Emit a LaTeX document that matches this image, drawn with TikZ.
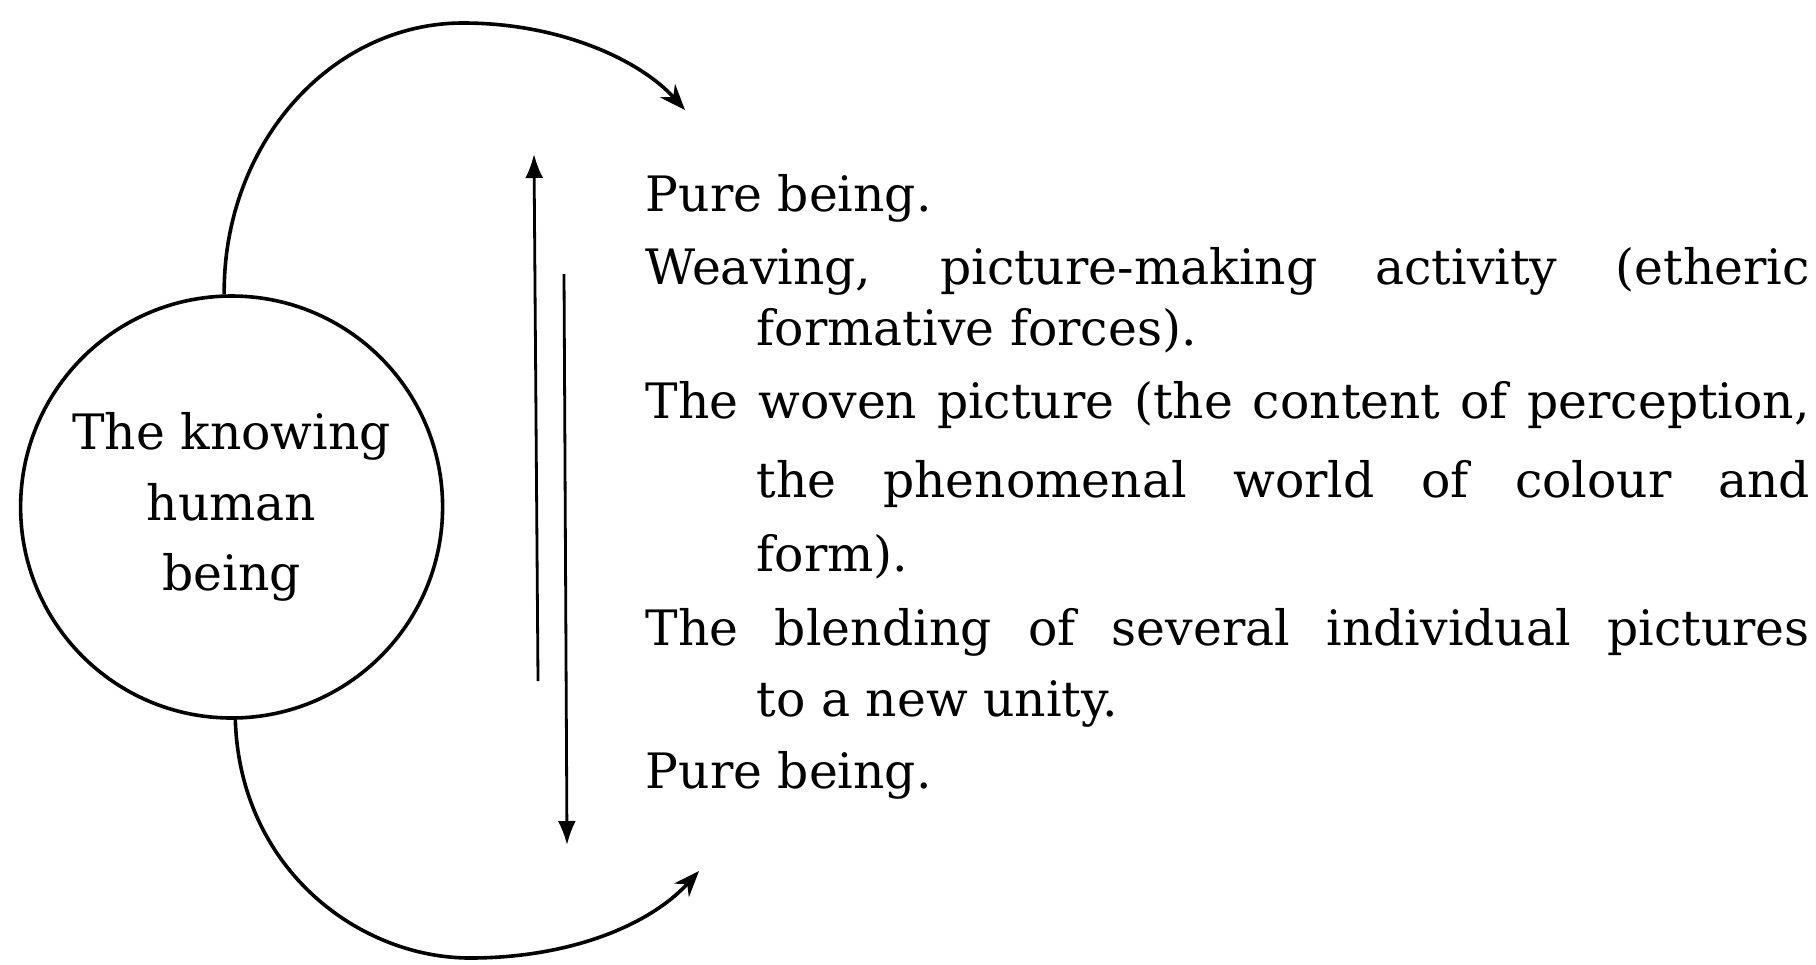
\documentclass[tikz,border=0pt]{standalone}
\usepackage{fontspec}
\setmainfont{DejaVu Serif}
\usetikzlibrary{arrows.meta}
\begin{document}
\begin{tikzpicture}[x=0.25pt,y=-0.25pt,
  txtfont/.style={font=\fontsize{12.2}{17.7}\selectfont},
  txt/.style={txtfont, anchor=base west, inner sep=0pt},
  arcline/.style={line width=0.9pt, -{Stealth[length=6.5pt,width=5pt]}},
  vline/.style={line width=0.7pt, -{Latex[length=6pt,width=4.5pt]}}]
\useasboundingbox (0,0) rectangle (1816,964);
\node[circle, draw, line width=0.9pt, minimum size=105.5pt, inner sep=0pt, align=center, txtfont] (c) at (231.6,507) {The knowing\\human\\being};
% curved arrows
\coordinate (p1) at (463,23);
\coordinate (t1) at (685,110);
\draw[arcline] (c.92) .. controls (223,144) and (331,23) .. (p1) .. controls (560,23) and (640,60) .. (t1);
\coordinate (p2) at (470,958);
\coordinate (t2) at (699,871);
\draw[arcline] (c.-89) .. controls (240,870) and (360,958) .. (p2) .. controls (570,958) and (650,925) .. (t2);
% vertical arrows
\coordinate (u0) at (538,681);
\coordinate (u1) at (534,154);
\coordinate (d0) at (564,274);
\coordinate (d1) at (567,845);
\draw[vline] (u0) -- (u1);
\draw[vline] (d0) -- (d1);
% text
\node[txt] (l1) at (645,211) {Pure being.};
\node[txt] (l2) at (645,284) {\makebox[291pt][s]{Weaving, picture-making activity (etheric}};
\node[txt] (l3) at (756,345) {formative forces).};
\node[txt] (l4) at (645,418) {\makebox[291pt][s]{The woven picture (the content of perception,}};
\node[txt] (l5) at (756,497) {\makebox[263.25pt][s]{the phenomenal world of colour and}};
\node[txt] (l6) at (756,571) {form).};
\node[txt] (l7) at (645,645) {\makebox[291pt][s]{The blending of several individual pictures}};
\node[txt] (l8) at (756,716) {to a new unity.};
\node[txt] (l9) at (645,788) {Pure being.};
\end{tikzpicture}
\end{document}
